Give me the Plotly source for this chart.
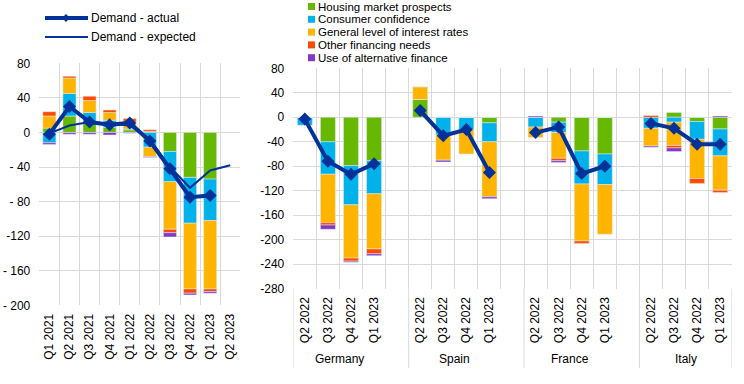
import plotly.graph_objects as go

# ---------------- Data: euro area panel ----------------
ea_quarters = ["Q1 2021", "Q2 2021", "Q3 2021", "Q4 2021", "Q1 2022",
               "Q2 2022", "Q3 2022", "Q4 2022", "Q1 2023", "Q2 2023"]
ea_housing = [5, 19, 11, 6, 3, 1, -22, -52, -54, None]
ea_consumer = [-12, 26, 12, 8, 1, -17, -35, -53, -48, None]
ea_interest = [14, 18, 14, 9, 8, -11, -55, -76, -79, None]
ea_other = [5, 2, 5, 3, 4, 2, -4, -5, -3, None]
ea_alt = [-2, -2, -2, -3, -1, -1, -5, -2, -2, None]
ea_actual = [-2, 30, 12, 9, 11, -10, -42, -75, -73, None]
ea_expected = [-1, 8, 12, 10, 8, -8, -40, -64, -44, -38]

# ---------------- Data: country panel ----------------
countries = ["Germany", "Spain", "France", "Italy"]
cty_quarters = ["Q2 2022", "Q3 2022", "Q4 2022", "Q1 2023"]
# values listed country by country (Germany, Spain, France, Italy), 4 quarters each
cty_housing = [0, -40, -79, -71, 29, 0, 0, -9, 0, -8, -55, -60, 0, 8, -7, -19]
cty_consumer = [-13, -53, -64, -54, 0, -29, -20, -31, -16, -17, -54, -50, -18, -8, -29, -44]
cty_interest = [0, -79, -87, -90, 21, -41, -40, -90, -17, -42, -93, -81, -29, -38, -64, -56]
cty_other = [0, -4, -5, -8, 0, 0, 0, 0, 0, -4, -4, 0, 3, -4, -8, -4]
cty_alt = [0, -7, -2, -3, 0, -3, 0, -3, 2, -3, 0, 0, -2, -6, 0, 2]
cty_actual = [-3, -72, -93, -76, 11, -30, -20, -90, -25, -16, -92, -80, -10, -18, -44, -44]

series_names = ["Housing market prospects", "Consumer confidence",
                "General level of interest rates", "Other financing needs",
                "Use of alternative finance"]
series_colors = ["#66b800", "#00b1ea", "#ffb400", "#ff4b00", "#8139c6"]
line_names = ["Demand - actual", "Demand - expected"]
line_color = "#003299"

ea_tick_text = ["80", "40", "0", "- 40", "- 80", "-120", "- 160", "- 200"]
ea_tick_vals = [80, 40, 0, -40, -80, -120, -160, -200]
cty_tick_vals = [80, 40, 0, -40, -80, -120, -160, -200, -240, -280]
cty_tick_text = ["80", "40", "0", "-40", "-80", "-120", "-160", "-200", "-240", "-280"]

# ---------------- Helpers ----------------
W, H = 744, 384
FONT = "Liberation Sans, Arial, sans-serif"
GRID = "#d9d9d9"


def px(x):
    return x / W


def py(y):
    return 1 - y / H


nq = len(cty_quarters)
slot = nq + 1  # one empty slot after each country group
n_slots = len(countries) * slot - 1


def cty_positions():
    xs = []
    for ci in range(len(countries)):
        for qi in range(nq):
            xs.append(ci * slot + qi)
    return xs


def with_gaps(vals):
    xs, ys = [], []
    for ci in range(len(countries)):
        for qi in range(nq):
            xs.append(ci * slot + qi)
            ys.append(vals[ci * nq + qi])
        if ci < len(countries) - 1:
            xs.append(ci * slot + nq)
            ys.append(None)
    return xs, ys


fig = go.Figure()

ea_x = list(range(len(ea_quarters)))
ea_series = [ea_housing, ea_consumer, ea_interest, ea_other, ea_alt]
cty_series = [cty_housing, cty_consumer, cty_interest, cty_other, cty_alt]

for name, color, vals in zip(series_names, series_colors, ea_series):
    fig.add_trace(go.Bar(x=ea_x, y=vals, name=name, marker_color=color,
                         showlegend=False, xaxis="x", yaxis="y"))
for name, color, vals in zip(series_names, series_colors, cty_series):
    fig.add_trace(go.Bar(x=cty_positions(), y=vals, name=name, marker_color=color,
                         showlegend=False, xaxis="x2", yaxis="y2"))

# lines - euro area
fig.add_trace(go.Scatter(x=ea_x, y=ea_expected, mode="lines", name=line_names[1],
                         line=dict(color=line_color, width=2), showlegend=False,
                         xaxis="x", yaxis="y"))
fig.add_trace(go.Scatter(x=ea_x, y=ea_actual, mode="lines+markers", name=line_names[0],
                         line=dict(color=line_color, width=4),
                         marker=dict(symbol="diamond", size=10, color=line_color),
                         showlegend=False, xaxis="x", yaxis="y"))
# lines - countries
gx, gy = with_gaps(cty_actual)
fig.add_trace(go.Scatter(x=gx, y=gy, mode="lines+markers", name=line_names[0],
                         line=dict(color=line_color, width=4),
                         marker=dict(symbol="diamond", size=10, color=line_color),
                         connectgaps=False, showlegend=False, xaxis="x2", yaxis="y2"))

# ---------------- Layout ----------------
tickfont = dict(family=FONT, size=12, color="#000000")

fig.update_layout(
    width=W, height=H, autosize=False,
    margin=dict(l=0, r=0, t=0, b=0, pad=0, autoexpand=False),
    paper_bgcolor="white", plot_bgcolor="white",
    barmode="relative", bargap=0.35,
    font=dict(family=FONT, size=12, color="#000000"),
    showlegend=False,
    xaxis=dict(domain=[px(39.3), px(240.3)], range=[-0.5, len(ea_quarters) - 0.5],
               tickmode="array", tickvals=ea_x, ticktext=ea_quarters, tickangle=-90,
               showgrid=False, zeroline=False, showline=False, ticks="",
               tickfont=tickfont, ticklabelstandoff=5, automargin=False,
               minor=dict(tickmode="array",
                          tickvals=[i - 0.5 for i in range(len(ea_quarters) + 1)],
                          showgrid=True, gridcolor=GRID, gridwidth=1, ticks="")),
    yaxis=dict(domain=[py(305.3), py(63.3)], range=[-200, 80],
               tickmode="array", tickvals=ea_tick_vals, ticktext=ea_tick_text,
               showgrid=True, gridcolor=GRID, gridwidth=1, zeroline=False,
               showline=False, ticks="", tickfont=tickfont, ticklabelstandoff=8,
               automargin=False),
    xaxis2=dict(domain=[px(293.3), px(731.7)], range=[-0.5, n_slots - 0.5],
                tickmode="array", tickvals=cty_positions(),
                ticktext=cty_quarters * len(countries), tickangle=-90,
                showgrid=False, zeroline=False, showline=False, ticks="",
                tickfont=tickfont, ticklabelstandoff=5, automargin=False,
                minor=dict(tickmode="array",
                           tickvals=[i - 0.5 for i in range(n_slots + 1)],
                           showgrid=True, gridcolor=GRID, gridwidth=1, ticks="")),
    yaxis2=dict(domain=[py(288.7), py(68.3)], range=[-280, 80],
                tickmode="array", tickvals=cty_tick_vals, ticktext=cty_tick_text,
                showgrid=True, gridcolor=GRID, gridwidth=1, zeroline=False,
                showline=False, ticks="", tickfont=tickfont, ticklabelstandoff=8,
                automargin=False),
)
fig.layout.xaxis2.anchor = "y2"
fig.layout.yaxis2.anchor = "x2"
fig.layout.yaxis.anchor = "x"
fig.layout.xaxis.anchor = "y"

shapes = []
annotations = []

# country separators and labels below the country panel
for ci in range(len(countries) + 1):
    xb = ci * slot - 0.5 if ci < len(countries) else n_slots - 0.5
    shapes.append(dict(type="line", xref="x2", yref="paper", x0=xb, x1=xb,
                       y0=py(288.7), y1=py(368), line=dict(color=GRID, width=1)))
for ci, c in enumerate(countries):
    annotations.append(dict(xref="x2", yref="paper", x=ci * slot + (nq - 1) / 2,
                            y=py(359), text=c, showarrow=False,
                            xanchor="center", yanchor="middle",
                            font=dict(family=FONT, size=12, color="#000000")))

# legend for the lines (top left)
leg_rows = [18, 37]
for i, (nm, wdt) in enumerate(zip(line_names, [4, 2])):
    y = leg_rows[i]
    shapes.append(dict(type="line", xref="paper", yref="paper",
                       x0=px(45), x1=px(88), y0=py(y), y1=py(y),
                       line=dict(color=line_color, width=wdt)))
    annotations.append(dict(xref="paper", yref="paper", x=px(89), y=py(y), text=nm,
                            showarrow=False, xanchor="left", yanchor="middle",
                            font=dict(family=FONT, size=12, color="#000000")))
cx, cy, r = 66, 18, 4
shapes.append(dict(type="path", xref="paper", yref="paper",
                   path=f"M {px(cx - r)},{py(cy)} L {px(cx)},{py(cy - r)} L {px(cx + r)},{py(cy)} L {px(cx)},{py(cy + r)} Z",
                   fillcolor=line_color, line=dict(color=line_color, width=0)))

# legend for the factors (top middle)
for i, (nm, col) in enumerate(zip(series_names, series_colors)):
    y = 6.5 + i * 12.8
    shapes.append(dict(type="rect", xref="paper", yref="paper",
                       x0=px(308), x1=px(315), y0=py(y + 3.5), y1=py(y - 3.5),
                       fillcolor=col, line=dict(width=0)))
    annotations.append(dict(xref="paper", yref="paper", x=px(316), y=py(y), text=nm,
                            showarrow=False, xanchor="left", yanchor="middle",
                            font=dict(family=FONT, size=11.5, color="#000000")))

fig.update_layout(shapes=shapes, annotations=annotations)

fig.write_html("out.html",
               config={"displayModeBar": False},
               post_script="document.body.style.margin='0';document.body.style.padding='0';")
